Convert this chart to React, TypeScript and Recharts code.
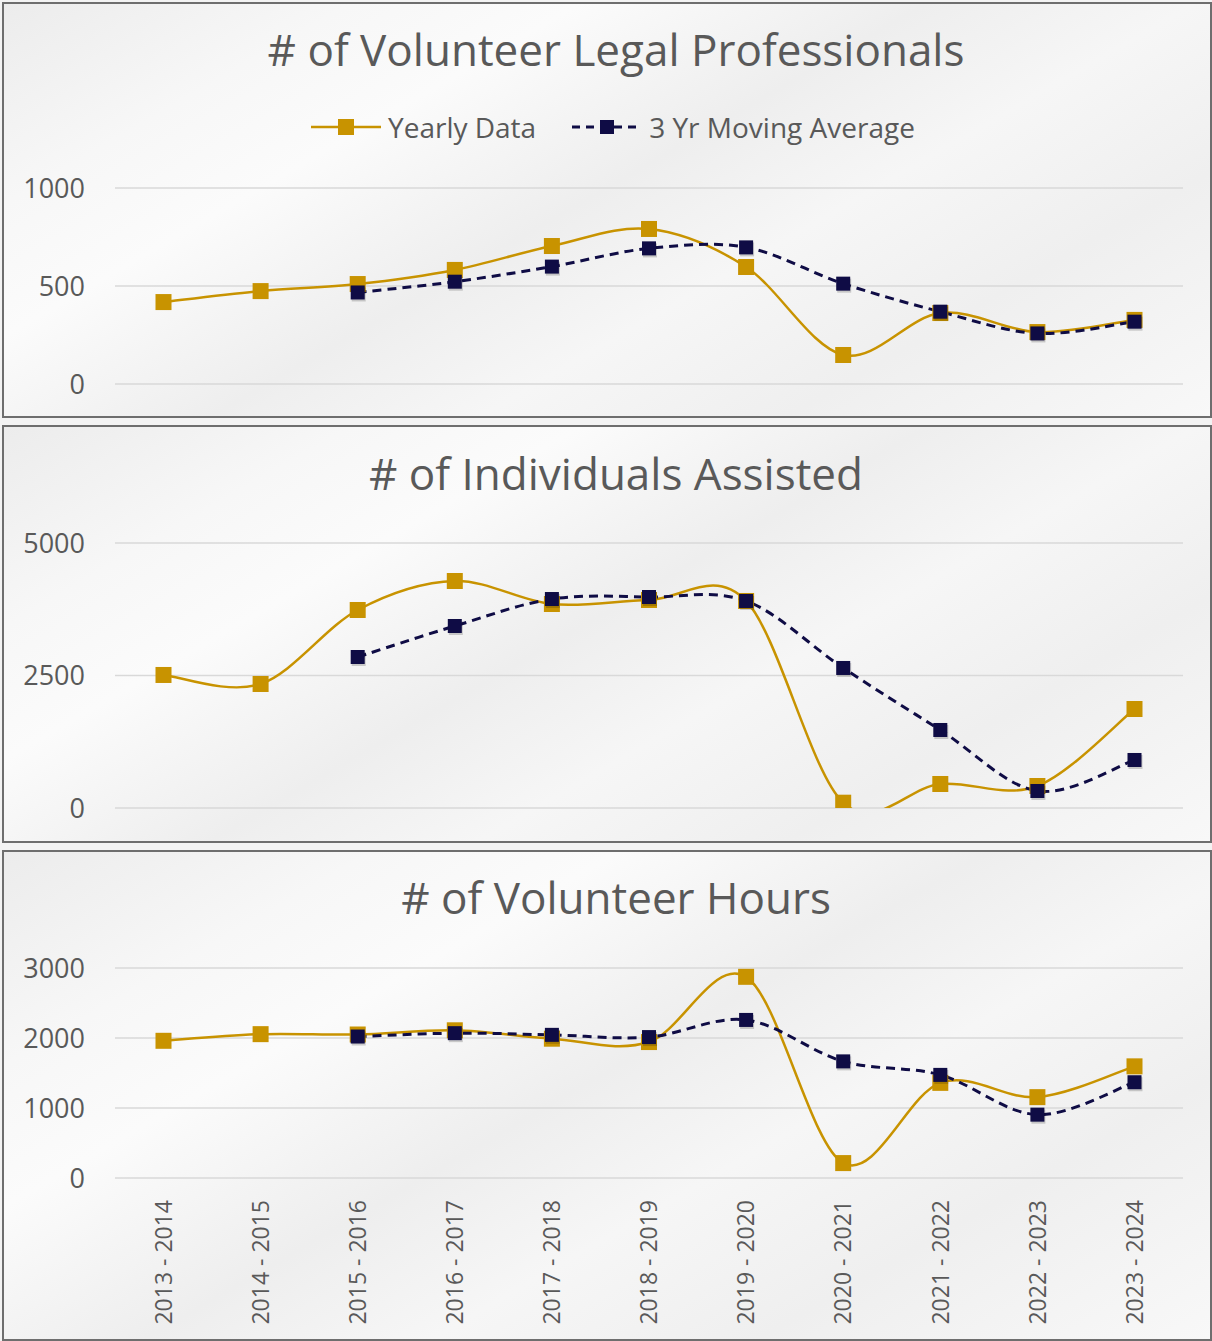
import React from 'react';
import { LineChart, Line, XAxis, YAxis, CartesianGrid, Legend } from 'recharts';

const categories = [
  '2013 - 2014', '2014 - 2015', '2015 - 2016', '2016 - 2017', '2017 - 2018', '2018 - 2019',
  '2019 - 2020', '2020 - 2021', '2021 - 2022', '2022 - 2023', '2023 - 2024',
];

const professionalsYearly = [418, 474, 510, 582, 704, 791, 597, 148, 362, 265, 327];
const professionalsAvg = [null, null, 467, 522, 599, 692, 697, 512, 369, 258, 318];

const individualsYearly = [2510, 2340, 3736, 4283, 3849, 3925, 3906, 100, 453, 415, 1868];
const individualsAvg = [null, null, 2849, 3434, 3943, 3981, 3906, 2642, 1472, 321, 906];

const hoursYearly = [1960, 2055, 2050, 2110, 1990, 1942, 2874, 213, 1359, 1155, 1595];
const hoursAvg = [null, null, 2021, 2069, 2045, 2013, 2258, 1666, 1473, 905, 1368];

const titles = ['# of Volunteer Legal Professionals', '# of Individuals Assisted', '# of Volunteer Hours'];
const seriesNames = ['Yearly Data', '3 Yr Moving Average'];
const professionalsTicks = [0, 500, 1000];
const individualsTicks = [0, 2500, 5000];
const hoursTicks = [0, 1000, 2000, 3000];

const GOLD = '#C89300';
const NAVY = '#0F0C45';
const TEXT = '#595959';
const FONT = '"Open Sans", sans-serif';

const buildRows = (yearly: (number | null)[], avg: (number | null)[]) =>
  categories.map((c, i) => ({ category: c, yearly: yearly[i], avg: avg[i] }));

// Excel-like smoothed line (uniform Catmull-Rom as cubic Beziers)
function excelSmooth(context: any) {
  let pts: number[][] = [];
  return {
    areaStart() {},
    areaEnd() {},
    lineStart() {
      pts = [];
    },
    point(x: number, y: number) {
      pts.push([+x, +y]);
    },
    lineEnd() {
      const n = pts.length;
      if (n === 0) return;
      context.moveTo(pts[0][0], pts[0][1]);
      for (let i = 0; i < n - 1; i++) {
        const p0 = pts[i - 1] || pts[i];
        const p1 = pts[i];
        const p2 = pts[i + 1];
        const p3 = pts[i + 2] || p2;
        context.bezierCurveTo(
          p1[0] + (p2[0] - p0[0]) / 6,
          p1[1] + (p2[1] - p0[1]) / 6,
          p2[0] - (p3[0] - p1[0]) / 6,
          p2[1] - (p3[1] - p1[1]) / 6,
          p2[0],
          p2[1]
        );
      }
    },
  };
}

const GoldDot = (props: any) => {
  const { cx, cy, index } = props;
  if (cx == null || cy == null || isNaN(cy)) return <g key={`gd${index}`} />;
  return <rect key={`gd${index}`} x={cx - 8} y={cy - 8} width={16} height={16} fill={GOLD} />;
};

const NavyDot = (props: any) => {
  const { cx, cy, index } = props;
  if (cx == null || cy == null || isNaN(cy)) return <g key={`nd${index}`} />;
  return (
    <g key={`nd${index}`}>
      <rect x={cx - 6} y={cy - 5} width={14} height={14} fill="rgba(0,0,0,0.18)" />
      <rect x={cx - 7} y={cy - 7} width={14} height={14} fill={NAVY} />
    </g>
  );
};

const XTick = (props: any) => {
  const { x, y, payload } = props;
  return (
    <g transform={`translate(${x},${y})`}>
      <text
        transform="rotate(-90)"
        textAnchor="end"
        dy="0.36em"
        fontSize={23}
        fill={TEXT}
        fontFamily={FONT}
      >
        {payload.value}
      </text>
    </g>
  );
};

const legendOrder = ['yearly', 'avg'];

const LegendContent = (props: any) => {
  const payload = [...(props.payload || [])].sort(
    (a: any, b: any) => legendOrder.indexOf(a.dataKey) - legendOrder.indexOf(b.dataKey)
  );
  return (
    <div style={{ display: 'flex', alignItems: 'center', height: 34 }}>
      {payload.map((entry: any, i: number) => {
        const dashed = entry.dataKey === 'avg';
        return (
          <div key={i} style={{ display: 'flex', alignItems: 'center', marginRight: 36 }}>
            <svg width={70} height={34} style={{ display: 'block' }}>
              <line
                x1={0}
                x2={70}
                y1={17}
                y2={17}
                stroke={entry.color}
                strokeWidth={dashed ? 3 : 2.5}
                strokeDasharray={dashed ? '8 6' : undefined}
              />
              {dashed ? (
                <rect x={28} y={10} width={14} height={14} fill={entry.color} />
              ) : (
                <rect x={27} y={9} width={16} height={16} fill={entry.color} />
              )}
            </svg>
            <span
              style={{
                marginLeft: 7,
                fontSize: 28,
                color: TEXT,
                fontFamily: FONT,
                lineHeight: '34px',
                whiteSpace: 'nowrap',
              }}
            >
              {entry.value}
            </span>
          </div>
        );
      })}
    </div>
  );
};

type PanelProps = {
  chartTop: number;
  chartHeight: number;
  plotTop: number;
  plotBottom: number;
  data: any[];
  domain: [number, number];
  ticks: number[];
  showLegend?: boolean;
  showXAxis?: boolean;
};

const ChartPanel = ({ chartTop, chartHeight, plotTop, plotBottom, data, domain, ticks, showLegend, showXAxis }: PanelProps) => {
  const bottomSpace = chartTop + chartHeight - plotBottom;
  return (
    <div style={{ position: 'absolute', left: 0, top: chartTop, width: 1212, height: chartHeight }}>
      <LineChart
        width={1212}
        height={chartHeight}
        data={data}
        margin={{ top: plotTop - chartTop, right: 29, left: 0, bottom: showXAxis ? 0 : bottomSpace }}
      >
        <CartesianGrid vertical={false} stroke="#d9d9d9" strokeWidth={1.5} />
        <XAxis
          dataKey="category"
          hide={!showXAxis}
          height={showXAxis ? bottomSpace : 0}
          padding={{ left: 48.5, right: 48.5 }}
          axisLine={false}
          tickLine={false}
          interval={0}
          tickMargin={16}
          tick={<XTick />}
        />
        <YAxis
          domain={domain}
          ticks={ticks}
          allowDataOverflow
          axisLine={false}
          tickLine={false}
          width={115}
          tickMargin={24}
          tick={{ fontSize: 27, fill: TEXT, fontFamily: FONT }}
        />
        {showLegend && (
          <Legend
            layout="horizontal"
            verticalAlign="middle"
            align="center"
            itemSorter={null as any}
            content={<LegendContent />}
            wrapperStyle={{ top: 110 - chartTop, left: 311, width: 700, height: 34 }}
          />
        )}
        <Line
          dataKey="yearly"
          name={seriesNames[0]}
          type={excelSmooth as any}
          stroke={GOLD}
          strokeWidth={2.5}
          dot={GoldDot}
          activeDot={false}
          isAnimationActive={false}
        />
        <Line
          dataKey="avg"
          name={seriesNames[1]}
          type={excelSmooth as any}
          stroke={NAVY}
          strokeWidth={3}
          strokeDasharray="9 6"
          dot={NavyDot}
          activeDot={false}
          isAnimationActive={false}
        />
      </LineChart>
    </div>
  );
};

const panelBg =
  'linear-gradient(150deg, #ececec 0%, #f7f7f7 18%, #fbfbfb 30%, #eeeeee 48%, #f6f6f6 62%, #efefef 78%, #f8f8f8 100%)';

const PanelBox = ({ top, height }: { top: number; height: number }) => (
  <div
    style={{
      position: 'absolute',
      left: 2,
      top,
      width: 1210,
      height,
      boxSizing: 'border-box',
      border: '2px solid #6e6e6e',
      background: panelBg,
    }}
  />
);

const Title = ({ text, baseline }: { text: string; baseline: number }) => (
  <div
    style={{
      position: 'absolute',
      left: 20,
      width: 1192,
      top: baseline - 39,
      fontSize: 44,
      lineHeight: '44px',
      textAlign: 'center',
      color: TEXT,
      fontFamily: FONT,
      whiteSpace: 'nowrap',
    }}
  >
    {text}
  </div>
);

export default function App() {
  return (
    <div
      style={{
        position: 'absolute',
        left: 0,
        top: 0,
        width: 1212,
        height: 1341,
        overflow: 'hidden',
        background: '#f3f3f3',
        fontFamily: FONT,
      }}
    >
      <PanelBox top={2} height={416} />
      <PanelBox top={425} height={418} />
      <PanelBox top={850} height={491} />
      <Title text={titles[0]} baseline={66} />
      <Title text={titles[1]} baseline={490} />
      <Title text={titles[2]} baseline={914} />
      <ChartPanel
        chartTop={0}
        chartHeight={420}
        plotTop={188}
        plotBottom={384}
        data={buildRows(professionalsYearly, professionalsAvg)}
        domain={[0, 1000]}
        ticks={professionalsTicks}
        showLegend
      />
      <ChartPanel
        chartTop={420}
        chartHeight={425}
        plotTop={543}
        plotBottom={808}
        data={buildRows(individualsYearly, individualsAvg)}
        domain={[0, 5000]}
        ticks={individualsTicks}
      />
      <ChartPanel
        chartTop={845}
        chartHeight={496}
        plotTop={968}
        plotBottom={1178}
        data={buildRows(hoursYearly, hoursAvg)}
        domain={[0, 3000]}
        ticks={hoursTicks}
        showXAxis
      />
    </div>
  );
}
